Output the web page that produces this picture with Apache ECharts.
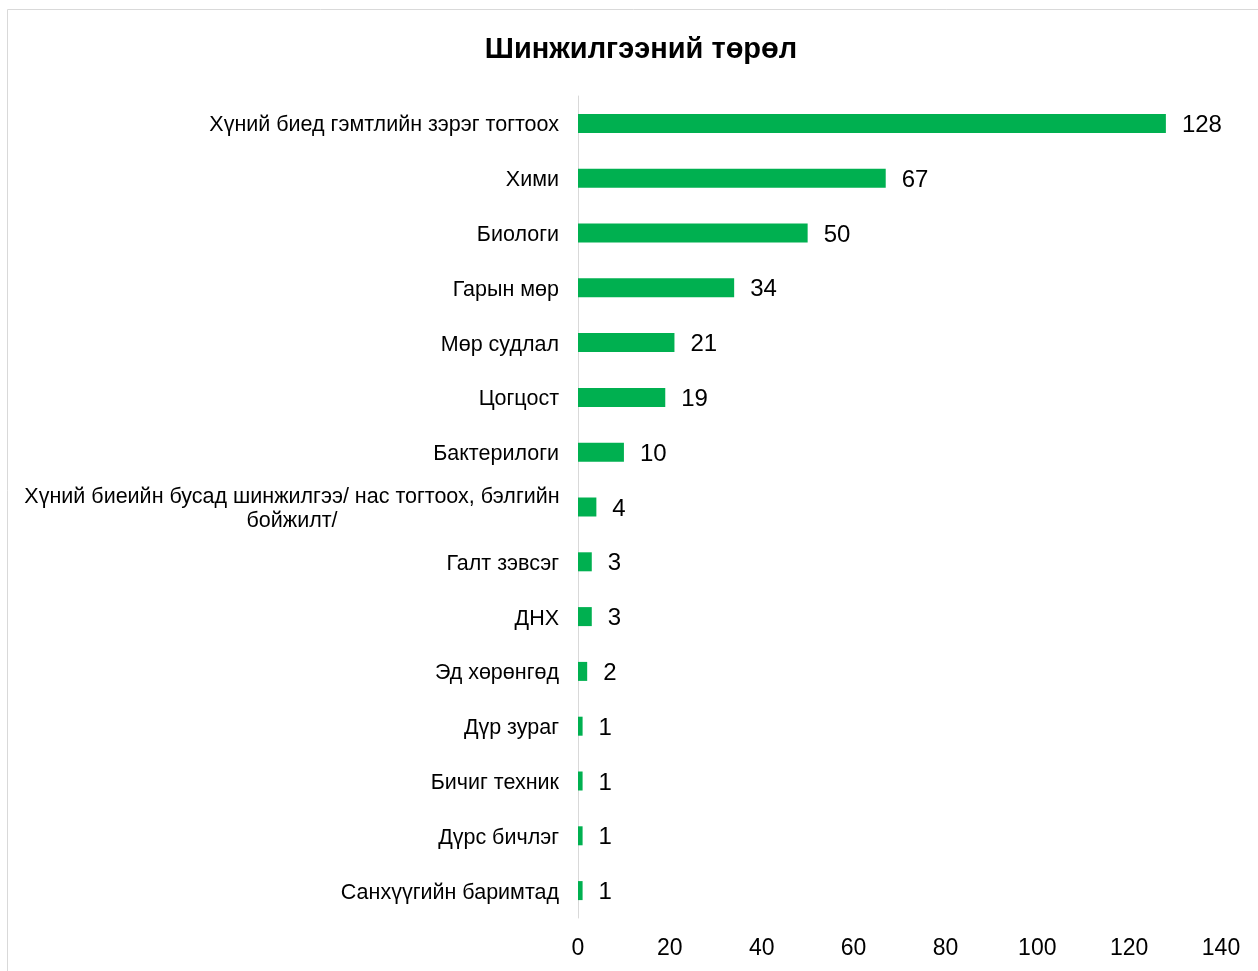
<!DOCTYPE html>
<html><head><meta charset="utf-8">
<script src="https://cdn.jsdelivr.net/npm/echarts@6/dist/echarts.min.js"></script>
<style>html,body{margin:0;padding:0;background:#fff}#c{width:1258px;height:971px}</style>
</head><body><div id="c"></div>
<script>
const categories = [
  "Хүний биед гэмтлийн зэрэг тогтоох",
  "Хими",
  "Биологи",
  "Гарын мөр",
  "Мөр судлал",
  "Цогцост",
  "Бактерилоги",
  "Хүний биеийн бусад шинжилгээ/ нас тогтоох, бэлгийн\nбойжилт/",
  "Галт зэвсэг",
  "ДНХ",
  "Эд хөрөнгөд",
  "Дүр зураг",
  "Бичиг техник",
  "Дүрс бичлэг",
  "Санхүүгийн баримтад"
];
const values = [128, 67, 50, 34, 21, 19, 10, 4, 3, 3, 2, 1, 1, 1, 1];
const xTicks = [0, 20, 40, 60, 80, 100, 120, 140];

const FF = 'Liberation Sans, Arial';
const chart = echarts.init(document.getElementById('c'));
chart.setOption({
  animation: false,
  title: {
    text: 'Шинжилгээний төрөл',
    left: 636, top: 30, textAlign: 'center',
    textStyle: {fontFamily: FF, fontWeight: 'bold', fontSize: 29, color: '#000'}
  },
  graphic: [{
    type: 'rect', shape: {x: 7.5, y: 9.5, width: 1270, height: 980},
    style: {fill: 'none', stroke: '#d9d9d9', lineWidth: 1}, silent: true
  }],
  grid: {left: 578, right: 37, top: 96, bottom: 53, containLabel: false},
  xAxis: {
    type: 'value', min: 0, max: 140, interval: 20,
    axisLine: {show: false}, axisTick: {show: false}, splitLine: {show: false},
    axisLabel: {
      margin: 19, color: '#000', fontSize: 23, fontFamily: FF,
      formatter: v => xTicks.includes(v) ? String(v) : ''
    }
  },
  yAxis: {
    type: 'category', inverse: true, data: categories,
    axisLine: {show: true, lineStyle: {color: '#d9d9d9', width: 1}},
    axisTick: {show: false},
    axisLabel: {
      margin: 19, color: '#000', fontSize: 21.5, fontFamily: FF, padding: [4, 0, 0, 0],
      formatter: function (v) {
        if (v.indexOf('\n') >= 0) {
          return v.split('\n').map(s => '{m|' + s + '}').join('\n');
        }
        return v;
      },
      rich: {m: {width: 534, align: 'center', fontSize: 21.5, color: '#000', fontFamily: FF, lineHeight: 24}}
    }
  },
  series: [{
    type: 'bar', data: values, barWidth: 19,
    itemStyle: {color: '#00B050'},
    label: {show: true, position: 'right', distance: 16, offset: [0, 2], color: '#000', fontSize: 24, fontFamily: FF}
  }]
});
</script></body></html>
